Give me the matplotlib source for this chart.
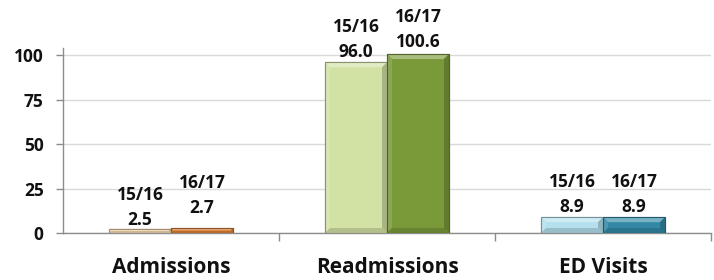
import matplotlib
matplotlib.use("Agg")
import matplotlib.pyplot as plt
from matplotlib.patches import Polygon
from matplotlib.colors import to_rgb
import numpy as np

categories = ["Admissions", "Readmissions", "ED Visits"]
period_labels = ["15/16", "16/17"]
values_1516 = [2.5, 96.0, 8.9]
values_1617 = [2.7, 100.6, 8.9]
yticks = [0, 25, 50, 75, 100]

light_colors = ["#F4D9AE", "#D2E2A4", "#B3E0EC"]
dark_colors = ["#DC7F33", "#7A9A3A", "#3388A6"]
# gap (pixels) between label baseline and bar top
off_1516 = [4, 5, 5]
off_1617 = [15, 7, 5]

plt.rcParams['font.family'] = ['Open Sans', 'DejaVu Sans']

fig = plt.figure(figsize=(7.14, 2.8), dpi=100)
ax = fig.add_axes([63/714, 1-233/280, 648/714, (233-48)/280])
ax.set_xlim(-0.5, 2.5)
ax.set_ylim(0, 104)

x = np.arange(len(categories))
w = 62/216
bars1 = ax.bar(x - w/2, values_1516, width=w, color=light_colors, edgecolor="#8E8E8E", linewidth=0.8, zorder=3)
bars2 = ax.bar(x + w/2, values_1617, width=w, color=dark_colors, edgecolor="#6E6E6E", linewidth=0.8, zorder=3)


def mix(c, other, t):
    c = np.array(to_rgb(c)); o = np.array(to_rgb(other))
    return tuple(c * (1 - t) + o * t)


def bevel(bar, color, b=5.0):
    (x0, y0), (x1, y1) = ax.transData.transform([(bar.get_x(), 0), (bar.get_x() + bar.get_width(), bar.get_height())])
    bb = min(b, (y1 - y0) / 2.2, (x1 - x0) / 2.2)
    inv = ax.transData.inverted()
    facets = [
        ([(x0, y1), (x1, y1), (x1 - bb, y1 - bb), (x0 + bb, y1 - bb)], mix(color, "white", 0.35)),
        ([(x0, y0), (x0, y1), (x0 + bb, y1 - bb), (x0 + bb, y0 + bb)], mix(color, "white", 0.12)),
        ([(x1, y0), (x1, y1), (x1 - bb, y1 - bb), (x1 - bb, y0 + bb)], mix(color, "black", 0.2)),
        ([(x0, y0), (x1, y0), (x1 - bb, y0 + bb), (x0 + bb, y0 + bb)], mix(color, "black", 0.15)),
    ]
    for pts, fc in facets:
        ax.add_patch(Polygon(inv.transform(pts), closed=True, facecolor=fc, edgecolor="none", zorder=3.5))
    ax.add_patch(Polygon(inv.transform([(x0, y0), (x0, y1), (x1, y1), (x1, y0)]), closed=True,
                         facecolor="none", edgecolor=mix(color, "black", 0.35), linewidth=0.8, zorder=3.6))


for bar, c in zip(bars1, light_colors):
    bevel(bar, c)
for bar, c in zip(bars2, dark_colors):
    bevel(bar, c)

lab_fs = 12.5
for i in range(len(categories)):
    ax.annotate(f"{period_labels[0]}\n{values_1516[i]:.1f}", (x[i] - w/2, values_1516[i]),
                xytext=(0, off_1516[i]*0.72), textcoords="offset points", ha="center", va="baseline",
                fontsize=lab_fs, fontweight="bold", color="#111111", linespacing=1.5, zorder=4)
    ax.annotate(f"{period_labels[1]}\n{values_1617[i]:.1f}", (x[i] + w/2, values_1617[i]),
                xytext=(0, off_1617[i]*0.72), textcoords="offset points", ha="center", va="baseline",
                fontsize=lab_fs, fontweight="bold", color="#111111", linespacing=1.5, zorder=4)

ax.set_yticks(yticks)
ax.set_yticklabels([str(t) for t in yticks], fontsize=12.5, fontweight="bold", color="#111111")
ax.yaxis.grid(True, color="#D9D9D9", linewidth=1.0, zorder=0)
ax.set_axisbelow(True)

ax.set_xticks([0.5, 1.5, 2.5], minor=False)
ax.set_xticklabels([])
ax.set_xticks(x, minor=True)
ax.set_xticklabels(categories, minor=True, fontsize=15, fontweight="bold", color="#111111")
ax.tick_params(axis="x", which="minor", length=0, pad=17)
ax.tick_params(axis="x", which="major", length=6, color="#8C8C8C", width=1.0)
ax.tick_params(axis="y", length=5, color="#8C8C8C", width=1.0, pad=9)

for s in ["top", "right"]:
    ax.spines[s].set_visible(False)
for s in ["left", "bottom"]:
    ax.spines[s].set_color("#8C8C8C")
    ax.spines[s].set_linewidth(1.0)

fig.savefig("out.png", dpi=100)
